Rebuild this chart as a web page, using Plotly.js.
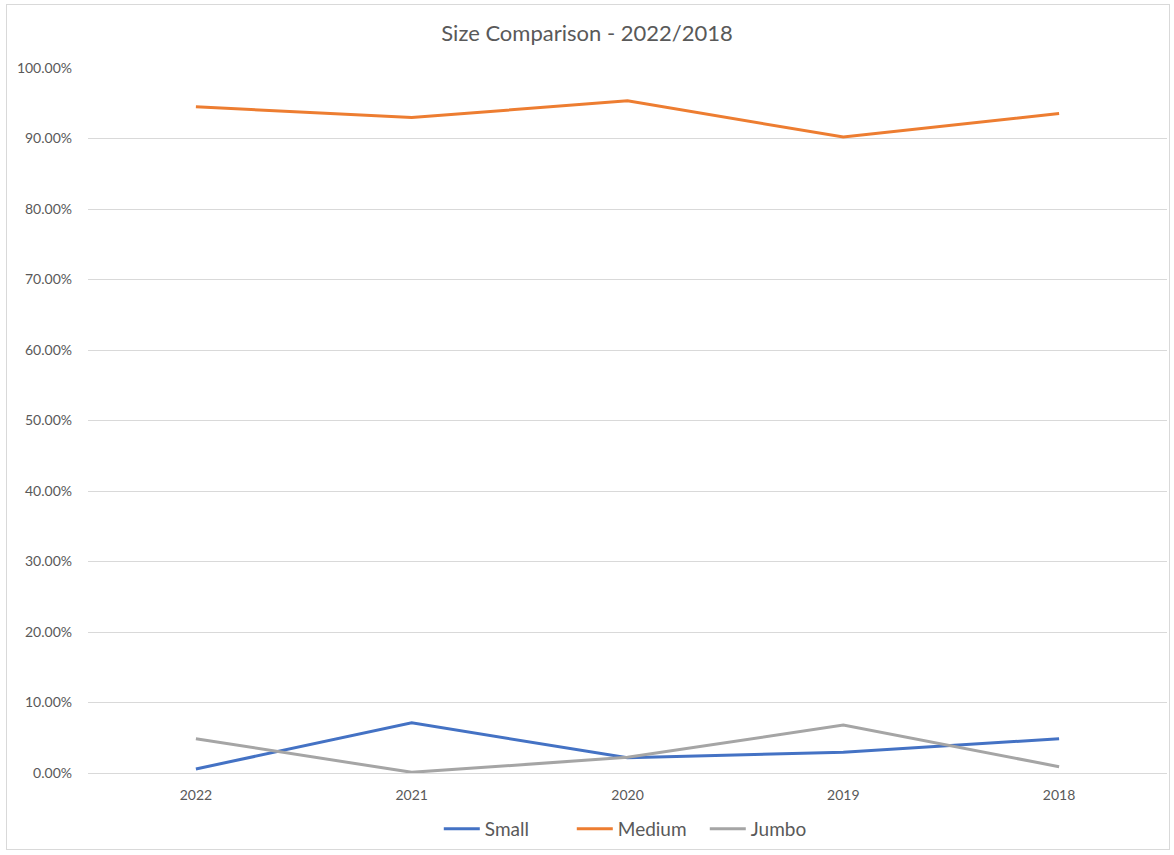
<!DOCTYPE html>
<html>
<head>
<meta charset="utf-8">
<script src="https://cdn.plot.ly/plotly-3.0.1.min.js"></script>
<style>
  html, body { margin: 0; padding: 0; background: #fff; }
  #wrap { position: relative; width: 1174px; height: 855px; }
  #chart { width: 1174px; height: 855px; }
  #frame { position: absolute; left: 6px; top: 4px; width: 1164px; height: 846px; border: 1px solid #d9d9d9; pointer-events: none; box-sizing: border-box; }
</style>
</head>
<body>
<div id="wrap">
  <div id="chart"></div>
  <div id="frame"></div>
</div>
<script>
const years = ["2022", "2021", "2020", "2019", "2018"];
const small = [0.0057, 0.0712, 0.0215, 0.0295, 0.0486];
const medium = [0.9450, 0.9297, 0.9535, 0.9020, 0.9355];
const jumbo = [0.0486, 0.0010, 0.0222, 0.0680, 0.0090];

const font = "Lato, 'Open Sans', sans-serif";
const traces = [
  { name: "Small", x: years, y: small, type: "scatter", mode: "lines", line: { color: "#4472C4", width: 3 } },
  { name: "Medium", x: years, y: medium, type: "scatter", mode: "lines", line: { color: "#ED7D31", width: 3 } },
  { name: "Jumbo", x: years, y: jumbo, type: "scatter", mode: "lines", line: { color: "#A5A5A5", width: 3 } }
];

const layout = {
  width: 1174, height: 855,
  margin: { l: 88, r: 7, t: 68, b: 82 },
  paper_bgcolor: "#fff", plot_bgcolor: "#fff",
  font: { family: font, color: "#595959", size: 14 },
  title: { text: "Size Comparison - 2022/2018", x: 0.5, xanchor: "center", y: 1 - 33/855, yanchor: "middle", font: { family: font, size: 22, color: "#595959" } },
  xaxis: { type: "category", range: [-0.5, 4.5], showgrid: false, zeroline: false, showline: false, ticks: "", tickfont: { size: 14, color: "#595959" }, ticklabelstandoff: 12 },
  yaxis: { range: [0, 1], dtick: 0.1, tickformat: ".2%", showgrid: true, gridcolor: "#d9d9d9", gridwidth: 1, zeroline: true, zerolinecolor: "#d9d9d9", zerolinewidth: 1, showline: false, ticks: "", tickfont: { size: 14, color: "#595959" }, ticklabelstandoff: 15 },
  showlegend: true,
  legend: { orientation: "h", x: 0.51, xanchor: "center", y: -56/705, yanchor: "middle", font: { size: 19, color: "#595959" }, itemwidth: 36, entrywidth: 82, entrywidthmode: "pixels" },
  hovermode: false
};

Plotly.newPlot("chart", traces, layout, { displayModeBar: false, staticPlot: true });
</script>
</body>
</html>
